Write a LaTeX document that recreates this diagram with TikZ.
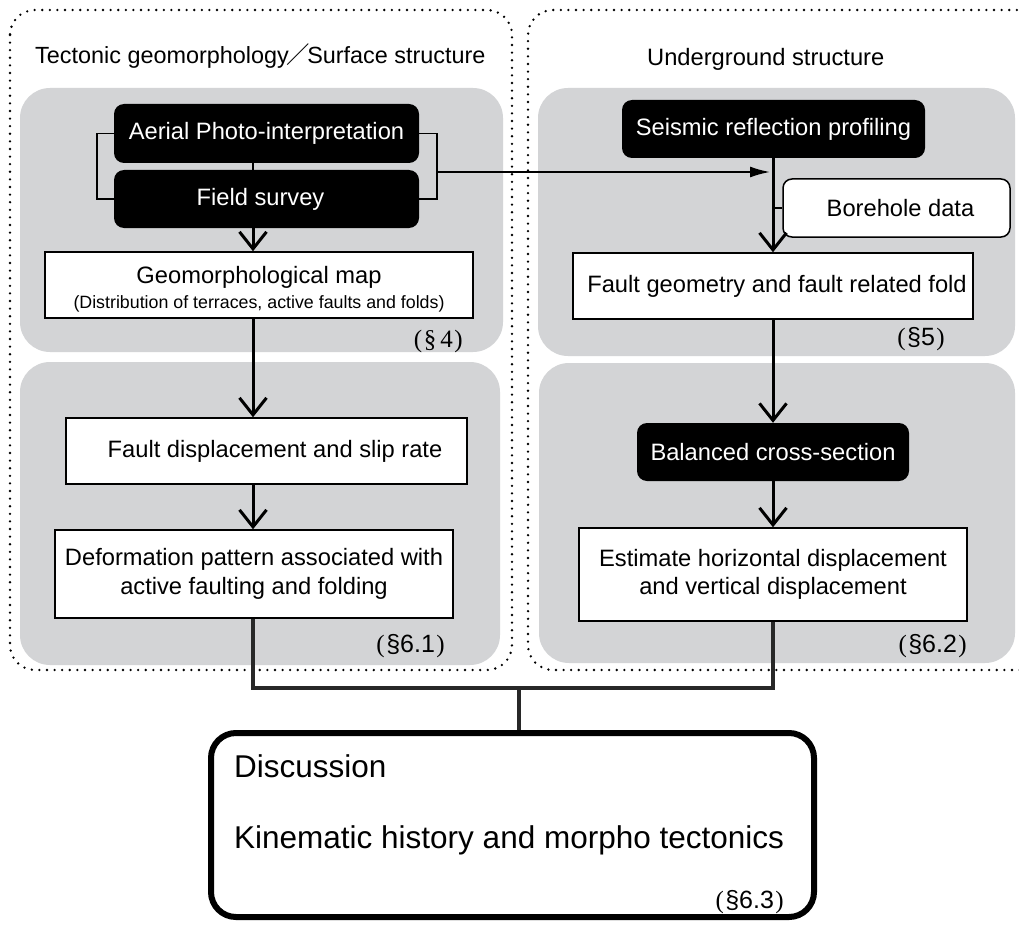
\documentclass[tikz,border=0pt]{standalone}
\usepackage{fontspec}
\setmainfont{Liberation Sans}
\newfontfamily\cjkfont{Noto Sans CJK JP}
\newfontfamily\serfont{Liberation Serif}
\usetikzlibrary{arrows.meta}
\definecolor{panelgray}{RGB}{211,212,214}
\definecolor{conngray}{RGB}{40,40,40}
\newcommand\mainsize{\fontsize{23.7}{28.5}\selectfont}
\newcommand\smallsize{\fontsize{17.8}{20}\selectfont}
\newcommand\bigsize{\fontsize{31.5}{36}\selectfont}
\newcommand\secsize{\fontsize{25}{28}\selectfont}
\newcommand\secl[1]{{\serfont(}\kern1.5pt#1\kern1.5pt{\serfont)}}
\begin{document}
\begin{tikzpicture}[x=1pt,y=-1pt,
  panel/.style={fill=panelgray, rounded corners=30pt},
  zone/.style={line width=2.6pt, dash pattern=on 0pt off 7.6pt, line cap=round, rounded corners=25pt},
  blk/.style={fill=black, text=white, rounded corners=10pt, inner sep=0pt, font=\mainsize},
  wbox/.style={fill=white, draw=black, line width=1.5pt, inner sep=0pt, font=\mainsize, align=center},
  rbox/.style={fill=white, draw=black, line width=1.5pt, rounded corners=9pt, inner sep=0pt, font=\mainsize},
  flow/.style={line width=3pt, -{Straight Barb[length=17pt,width=27pt]}},
  thinl/.style={line width=1.8pt},
  conn/.style={line width=3.2pt, draw=conngray},
  sec/.style={font=\secsize, inner sep=0pt, anchor=base east},
  ttl/.style={font=\mainsize, inner sep=0pt, anchor=base west}
]
\useasboundingbox (0,0) rectangle (1019,928);
\fill[white] (0,0) rectangle (1019,928);

% gray panels
\fill[panel] (20,88) rectangle (503,352);
\fill[panel] (20,362) rectangle (500,665);
\fill[panel] (538,88) rectangle (1015,356);
\fill[panel] (539,363) rectangle (1015,663);

% dotted zones
\draw[zone] (10,10) rectangle (512,670);
\draw[zone] (1070,10) -- (528,10) -- (528,670) -- (1070,670);

% titles
\node[ttl] (t1) at (35,64) {\fontsize{23.4}{28}\selectfont Tectonic geomorphology\kern-2.5pt{\cjkfont ／}\kern-2.5pt Surface structure};
\node[ttl] (t2) at (647,66) {Underground structure};

% column coordinates
\coordinate (lx) at (253,0);
\coordinate (rx) at (773,0);

% left column
\node[blk, minimum width=305pt, minimum height=59pt] (aerial) at (266.5,133.5) {Aerial Photo-interpretation};
\node[blk, minimum width=305pt, minimum height=58pt] (field) at (266.5,199) {\hspace*{-12pt}Field survey};
\node[wbox, minimum width=428pt, minimum height=66pt] (geo) at (259,285)
  {\rule{0pt}{26pt}Geomorphological map\\[-4pt]{\smallsize (Distribution of terraces, active faults and folds)}};
\node[wbox, minimum width=401pt, minimum height=66pt] (disp) at (266.5,451) {\hspace*{17pt}Fault displacement and slip rate};
\node[wbox, minimum width=398pt, minimum height=88pt] (deform) at (254,574)
  {Deformation pattern associated with\\active faulting and folding};

% right column
\node[blk, minimum width=303pt, minimum height=58pt] (seis) at (773.5,129) {Seismic reflection profiling};
\node[rbox, minimum width=227pt, minimum height=58pt] (bore) at (896.5,208) {\hspace*{8pt}Borehole data};
\node[wbox, minimum width=400pt, minimum height=66pt] (fgeom) at (773,286) {\hspace*{8pt}Fault geometry and fault related fold};
\node[blk, minimum width=272pt, minimum height=58pt] (bal) at (773,452) {Balanced cross-section};
\node[wbox, minimum width=388pt, minimum height=93pt] (est) at (773,574.5)
  {Estimate horizontal displacement\\and vertical displacement};

% section labels
\node[sec] (s4) at (463,347) {\secl{\serfont\S\,4}};
\node[sec] (s5) at (945,345) {\secl{\S 5}};
\node[sec] (s61) at (445,652) {\secl{\S 6.1}};
\node[sec] (s62) at (967,652) {\secl{\S 6.2}};

% discussion
\node[draw, line width=6pt, rounded corners=25pt, minimum width=603pt, minimum height=184pt] (disc) at (512.5,825) {};
\node[font=\bigsize, inner sep=0pt, anchor=base west] (dt) at (234,777) {Discussion};
\node[font=\bigsize, inner sep=0pt, anchor=base west] (dk) at (234,848) {Kinematic history and morpho tectonics};
\node[sec] (s63) at (784,908) {\secl{\S 6.3}};

% brackets and connectors
\draw[thinl] (aerial.south -| lx) -- (field.north -| lx);
\draw[thinl] (aerial.west) -- ++(-17,0) |- (field.west);
\draw[thinl] (aerial.east) -- ++(18,0) |- (field.east);
\coordinate (brmid) at (437,172);
\draw[thinl, -{Latex[length=20pt,width=11pt]}, shorten >=3pt] (brmid) -- (rx |- brmid);
\draw[thinl] (bore.west) -- (bore.west -| rx);

\draw[flow] (field.south -| lx) -- (geo.north -| lx);
\draw[flow] (geo.south -| lx) -- (disp.north -| lx);
\draw[flow] (disp.south -| lx) -- (deform.north -| lx);

\draw[flow] (seis.south -| rx) -- (fgeom.north -| rx);
\draw[flow] (fgeom.south -| rx) -- (bal.north -| rx);
\draw[flow] (bal.south -| rx) -- (est.north -| rx);

\coordinate (jl) at (253,688);
\coordinate (jr) at (773,688);
\coordinate (jm) at (519,688);
\draw[conn] (deform.south -| lx) -- (jl) -- (jr) -- (est.south -| rx);
\draw[conn] (jm) -- (jm |- disc.north);
\end{tikzpicture}
\end{document}
